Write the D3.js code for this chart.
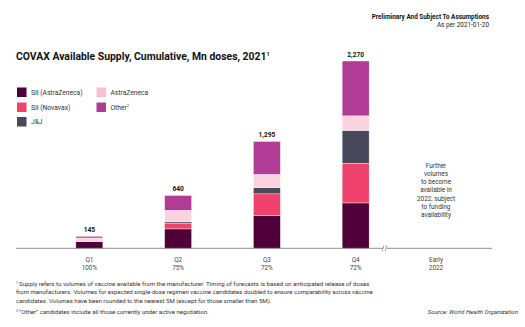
<!DOCTYPE html>
<html>
<head>
<meta charset="utf-8">
<script src="https://cdn.jsdelivr.net/npm/d3@7"></script>
<style>
  body { margin: 0; background: #fff; }
  svg { font-family: Roboto, "Noto Sans", sans-serif; }
</style>
</head>
<body>
<svg id="chart" width="525" height="327"></svg>
<script>
let quarters = ["Q1", "Q2", "Q3", "Q4"];
let shares = ["100%", "75%", "72%", "72%"];
let totals = [145, 640, 1295, 2270];
let seriesNames = ["SII (AstraZeneca)", "SII (Novavax)", "J&J", "AstraZeneca", "Other"];
let siiAZ = [80, 235, 395, 550];
let siiNovavax = [0, 65, 265, 480];
let jnj = [0, 20, 75, 400];
let astraZeneca = [45, 140, 160, 175];
let other = [20, 180, 400, 665];
let colors = ["#4f0038", "#ef426d", "#474859", "#fbd3df", "#b03c95"];

let svg = d3.select("#chart");
let rows = quarters.map((q, i) => ({
  q, "SII (AstraZeneca)": siiAZ[i], "SII (Novavax)": siiNovavax[i],
  "J&J": jnj[i], "AstraZeneca": astraZeneca[i], "Other": other[i]
}));
let stacked = d3.stack().keys(seriesNames)(rows);
let color = d3.scaleOrdinal().domain(seriesNames).range(colors);

let x = d3.scalePoint().domain(quarters).range([45, 400]).padding(0.5);
let y = d3.scaleLinear().domain([0, 2270]).range([248.3, 61]);
let barW = 27;
let earlyX = 436;

// header
svg.append("text").attr("x", 489).attr("y", 18.5).attr("text-anchor", "end")
  .attr("font-size", 6.4).attr("font-weight", "bold").attr("fill", "#111")
  .text("Preliminary And Subject To Assumptions");
svg.append("text").attr("x", 489).attr("y", 26.5).attr("text-anchor", "end")
  .attr("font-size", 6.4).attr("fill", "#222").text("As per 2021-01-20");

// title
let title = svg.append("text").attr("x", 16).attr("y", 60)
  .attr("font-size", 10.4).attr("font-weight", "bold").attr("fill", "#111");
title.append("tspan").text("COVAX Available Supply, Cumulative, Mn doses, 2021");
title.append("tspan").attr("font-size", 5.5).attr("dy", -4).text("1");

// legend
let legendPos = [[17, 92], [17, 107], [17, 121.5], [96.5, 92], [96.5, 107]];
let lg = svg.append("g").selectAll("g").data(seriesNames).join("g")
  .attr("transform", (d, i) => `translate(${legendPos[i][0]},${legendPos[i][1]})`);
lg.append("rect").attr("x", 0).attr("y", -4.5).attr("width", 9.5).attr("height", 9.5)
  .attr("fill", d => d === "AstraZeneca" ? "#f9c0d1" : color(d));
let lt = lg.append("text").attr("x", 14).attr("y", 2.5).attr("font-size", 6.7).attr("fill", "#333");
lt.append("tspan").text(d => d);
lt.filter(d => d === "Other").append("tspan").attr("font-size", 4).attr("dy", -3).text("2");

// bars
svg.append("g").selectAll("g").data(stacked).join("g")
  .attr("fill", d => color(d.key))
  .selectAll("rect").data(d => d).join("rect")
  .attr("x", d => x(d.data.q) - barW / 2)
  .attr("width", barW)
  .attr("y", d => y(d[1]))
  .attr("height", d => Math.max(0, y(d[0]) - y(d[1])))
  .attr("stroke", "#fff").attr("stroke-width", 0.4);

// totals
svg.append("g").selectAll("text").data(quarters).join("text")
  .attr("x", d => x(d)).attr("y", (d, i) => y(totals[i]) - 4)
  .attr("text-anchor", "middle").attr("font-size", 6.6).attr("font-weight", "bold").attr("fill", "#111")
  .text((d, i) => d3.format(",")(totals[i]));

// axis line with break
let axisY = y(0);
svg.append("line").attr("x1", 16).attr("x2", 383).attr("y1", axisY).attr("y2", axisY)
  .attr("stroke", "#808080").attr("stroke-width", 0.9);
svg.append("line").attr("x1", 387).attr("x2", 492).attr("y1", axisY).attr("y2", axisY)
  .attr("stroke", "#808080").attr("stroke-width", 0.9);
[383, 386].forEach(bx => svg.append("line")
  .attr("x1", bx - 1).attr("x2", bx + 1).attr("y1", axisY + 3).attr("y2", axisY - 3)
  .attr("stroke", "#808080").attr("stroke-width", 0.8));

// x labels
let xl = svg.append("g").selectAll("text").data(quarters).join("text")
  .attr("x", d => x(d)).attr("text-anchor", "middle").attr("font-size", 6.4).attr("fill", "#444");
xl.append("tspan").attr("x", d => x(d)).attr("y", 261.5).text(d => d);
xl.append("tspan").attr("x", d => x(d)).attr("y", 270).text((d, i) => shares[i]);
let early = svg.append("text").attr("text-anchor", "middle").attr("font-size", 6.4).attr("fill", "#444");
early.append("tspan").attr("x", earlyX).attr("y", 261.5).text("Early");
early.append("tspan").attr("x", earlyX).attr("y", 270).text("2022");

// note for 2022
let noteLines = ["Further", "volumes", "to become", "available in", "2022, subject", "to funding", "availability"];
svg.append("g").selectAll("text").data(noteLines).join("text")
  .attr("x", earlyX).attr("y", (d, i) => 167.5 + i * 8.3)
  .attr("text-anchor", "middle").attr("font-size", 6.4).attr("fill", "#333")
  .text(d => d);

// footnotes
let foot1 = [
  "Supply refers to volumes of vaccine available from the manufacturer. Timing of forecasts is based on anticipated release of doses",
  "from manufacturers. Volumes for expected single-dose regimen vaccine candidates doubled to ensure comparability across vaccine",
  "candidates. Volumes have been rounded to the nearest 5M (except for those smaller than 5M)."
];
let f = svg.append("g").attr("font-size", 6.1).attr("fill", "#333");
foot1.forEach((line, i) => {
  let t = f.append("text").attr("x", 16).attr("y", 285.8 + i * 8.5);
  if (i === 0) t.append("tspan").attr("font-size", 3.8).attr("dy", -2.2).text("1 ");
  t.append("tspan").attr("dy", i === 0 ? 2.2 : 0).text(line);
});
let t2 = f.append("text").attr("x", 16).attr("y", 314);
t2.append("tspan").attr("font-size", 3.8).attr("dy", -2.2).text("2 ");
t2.append("tspan").attr("dy", 2.2).text("\u201COther\u201D candidates include all those currently under active negotiation.");
f.append("text").attr("x", 518).attr("y", 314).attr("text-anchor", "end")
  .attr("font-style", "italic").text("Source: World Health Organization");
</script>
</body>
</html>
